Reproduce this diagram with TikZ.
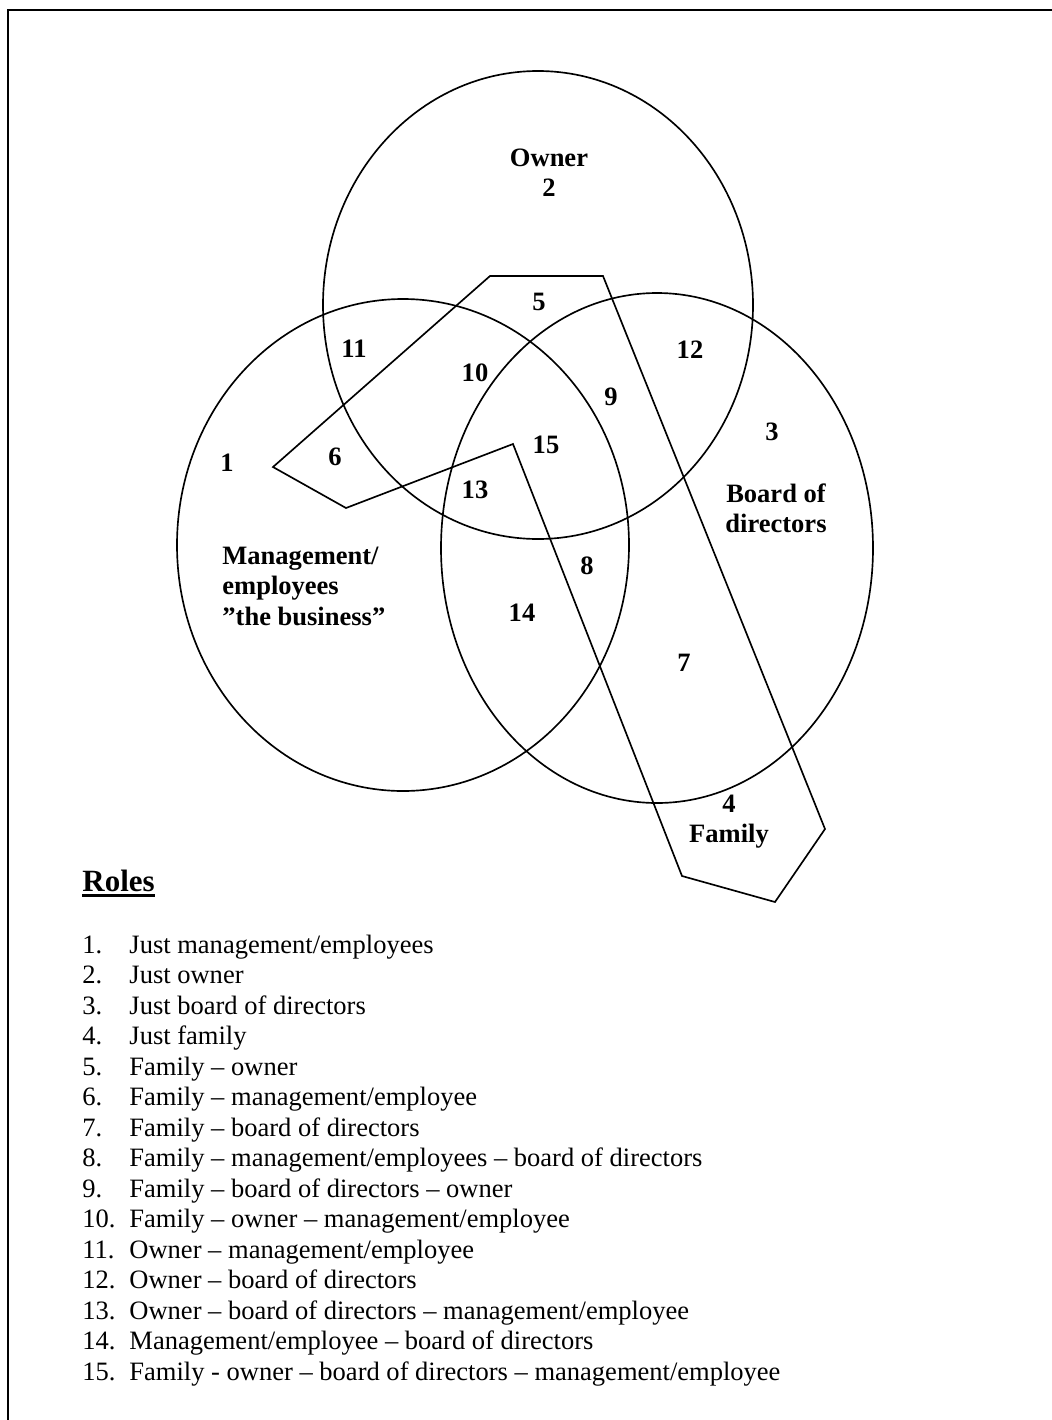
\documentclass[tikz,border=0pt]{standalone}
\usepackage{fontspec}
\setmainfont{Liberation Serif}
\begin{document}
\begin{tikzpicture}[x=0.4525pt,y=-0.4525pt,
  outline/.style={line width=0.75pt},
  lbl/.style={font=\fontsize{12}{13.6}\selectfont\bfseries, inner sep=0pt, align=center},
  item/.style={font=\fontsize{12}{13.8}\selectfont, inner sep=0pt, anchor=base west}]
\useasboundingbox (0,0) rectangle (1052,1420);
\fill[white] (0,0) rectangle (1052,1420);
% page frame
\draw[line width=0.9pt] (8,1420) -- (8,10) -- (1052,10);

% the three role circles
\draw[outline] (538,305) ellipse [x radius=215, y radius=234];
\draw[outline] (403,545) ellipse [x radius=226, y radius=246];
\draw[outline] (657,548) ellipse [x radius=216, y radius=255];

% family region
\draw[outline, line join=miter] (490,276) -- (603,276) -- (825,829) -- (775,902)
  -- (682,876) -- (513,444) -- (346,508) -- (273,467) -- cycle;

% region labels
\node[lbl] (owner) at (549,173) {Owner\\2};
\node[lbl] (r5) at (539,302) {5};
\node[lbl] (r11) at (354,349) {11};
\node[lbl] (r10) at (475,373) {10};
\node[lbl] (r12) at (690,350) {12};
\node[lbl] (r9) at (611,397) {9};
\node[lbl] (r3) at (772,432) {3};
\node[lbl] (r15) at (546,445) {15};
\node[lbl] (r1) at (227,463) {1};
\node[lbl] (r6) at (335,457) {6};
\node[lbl] (r13) at (475,490) {13};
\node[lbl] (board) at (776,508) {Board of\\directors};
\node[lbl] (r8) at (587,566) {8};
\node[lbl, align=left, anchor=north west] (mgmt) at (222,547) {Management/\\employees\\”the business”};
\node[lbl] (r14) at (522,613) {14};
\node[lbl] (r7) at (684,663) {7};
\node[lbl] (family) at (729,822) {4\\Family};

% legend
\node[font=\fontsize{14}{16}\selectfont\bfseries, inner sep=0pt, anchor=base west] (roles) at (82,891) {Roles};
\draw[line width=1.2pt] ([yshift=-1.9pt]roles.base west) -- ([yshift=-1.9pt]roles.base east);

\foreach \t [count=\k] in {
  {Just management/employees},
  {Just owner},
  {Just board of directors},
  {Just family},
  {Family – owner},
  {Family – management/employee},
  {Family – board of directors},
  {Family – management/employees – board of directors},
  {Family – board of directors – owner},
  {Family – owner – management/employee},
  {Owner – management/employee},
  {Owner – board of directors},
  {Owner – board of directors – management/employee},
  {Management/employee – board of directors},
  {Family - owner – board of directors – management/employee}} {
  \node[item] (num\k) at (82,{953+(\k-1)*30.5}) {\k.};
  \node[item] (role\k) at (129,{953+(\k-1)*30.5}) {\t};
}
\end{tikzpicture}
\end{document}
